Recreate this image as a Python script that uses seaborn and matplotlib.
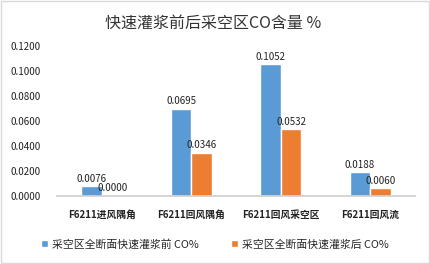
import matplotlib
matplotlib.use("Agg")
import matplotlib.pyplot as plt
import seaborn as sns
import pandas as pd
from matplotlib.patches import Rectangle

categories = ["F6211进风隅角", "F6211回风隅角", "F6211回风采空区", "F6211回风流"]
before = [0.0076, 0.0695, 0.1052, 0.0188]
after = [0.0000, 0.0346, 0.0532, 0.0060]
series = ["采空区全断面快速灌浆前 CO%", "采空区全断面快速灌浆后 CO%"]
yticks = [0.0, 0.02, 0.04, 0.06, 0.08, 0.10, 0.12]

sns.set_theme(style="white")
plt.rcParams['font.family'] = ['Noto Sans CJK SC', 'DejaVu Sans']

df = pd.DataFrame({
    "cat": categories * 2,
    "val": before + after,
    "series": [series[0]] * 4 + [series[1]] * 4,
})

fig = plt.figure(figsize=(4.3, 2.64), dpi=100)
ax = fig.add_axes([0.133, 0.258, 0.832, 0.568])
sns.barplot(data=df, x="cat", y="val", hue="series", palette=["#5B9BD5", "#ED7D31"],
            width=0.46, ax=ax, saturation=1, legend=True)

for cont in ax.containers:
    ax.bar_label(cont, labels=[f"{v:.4f}" for v in cont.datavalues], fontsize=7, padding=2, color="#222222")

ax.set_ylim(0, 0.12)
ax.set_yticks(yticks)
ax.set_yticklabels([f"{t:.4f}" for t in yticks], fontsize=7, color="#222222")
ax.tick_params(axis='x', labelsize=7, colors="#222222", length=0, pad=10)
ax.tick_params(axis='y', length=0, pad=12)
for lab in ax.get_xticklabels():
    lab.set_fontweight("bold")
for lab in ax.get_yticklabels():
    lab.set_fontweight("medium")
ax.set_xlabel("")
ax.set_ylabel("")
for s in ["top", "right", "left"]:
    ax.spines[s].set_visible(False)
ax.spines["bottom"].set_color("#d0d0d0")
ax.set_xlim(-0.5, 3.5)

fig.suptitle("快速灌浆前后采空区CO含量 %", x=0.495, y=0.945, fontsize=11.5, color="#333333")

h, l = ax.get_legend_handles_labels()
ax.legend_.remove()
fig.legend(h, l, loc="center", bbox_to_anchor=(0.5, 0.075), ncol=2, frameon=False,
           fontsize=7.8, handlelength=0.6, handleheight=0.6, columnspacing=3, handletextpad=0.4)

fig.add_artist(Rectangle((0.002, 0.002), 0.996, 0.994, transform=fig.transFigure,
                         fill=False, edgecolor="#d9d9d9", linewidth=1))

fig.savefig("out.png", dpi=100)
